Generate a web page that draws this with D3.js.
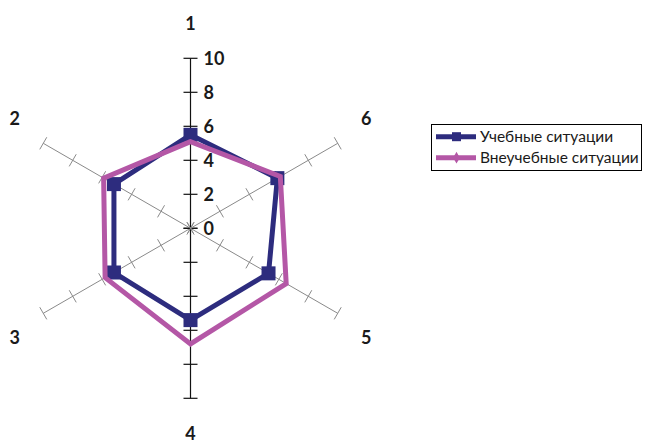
<!DOCTYPE html>
<html>
<head>
<meta charset="utf-8">
<script src="https://cdn.jsdelivr.net/npm/d3@7"></script>
<style>
  body { margin: 0; background: #fff; }
  text { font-family: Lato, "Open Sans", sans-serif; }
</style>
</head>
<body>
<div id="chart"></div>
<script>
// axes go counterclockwise starting at the top
const categories = ["1", "2", "3", "4", "5", "6"];
const seriesNames = ["Учебные ситуации", "Внеучебные ситуации"];
const studyValues = [5.5, 5.2, 5.2, 5.4, 5.3, 5.9];
const otherValues = [5.1, 5.9, 5.8, 6.8, 6.5, 6.1];
const tickValues = [0, 2, 4, 6, 8, 10];

const width = 645, height = 444;
const cx = 190.5, cy = 228.3;
const colors = ["#2d2c7e", "#b457a6"];

const svg = d3.select("#chart").append("svg")
  .attr("width", width)
  .attr("height", height);

const r = d3.scaleLinear().domain([0, 10]).range([0, 170]);
const angle = i => -i * Math.PI / 3;

const g = svg.append("g").attr("transform", `translate(${cx},${cy})`);

// spokes with cross ticks
categories.forEach((c, i) => {
  const a = angle(i);
  const sx = Math.sin(a), sy = -Math.cos(a);
  const vertical = (i === 0 || i === 3);
  const col = vertical ? "#111" : "#8a8a8a";
  g.append("line")
    .attr("x1", 0).attr("y1", 0)
    .attr("x2", sx * r(10)).attr("y2", sy * r(10))
    .attr("stroke", col).attr("stroke-width", vertical ? 1.2 : 1);
  // perpendicular direction
  const px = -sy, py = sx;
  g.selectAll(null)
    .data(tickValues)
    .enter().append("line")
    .attr("x1", d => sx * r(d) - px * 7)
    .attr("y1", d => sy * r(d) - py * 7)
    .attr("x2", d => sx * r(d) + px * 7)
    .attr("y2", d => sy * r(d) + py * 7)
    .attr("stroke", col).attr("stroke-width", vertical ? 1.2 : 1);
});

// value labels on the first axis
g.selectAll(".tick-label")
  .data(tickValues)
  .enter().append("text")
  .attr("class", "tick-label")
  .attr("x", 13)
  .attr("y", d => -r(d))
  .attr("dy", "0.36em")
  .attr("font-size", 18)
  .attr("font-weight", "bold")
  .attr("fill", "#1a1a1a")
  .text(d => d);

// category labels
g.selectAll(".cat-label")
  .data(categories)
  .enter().append("text")
  .attr("class", "cat-label")
  .attr("x", (d, i) => Math.sin(angle(i)) * 203)
  .attr("y", (d, i) => -Math.cos(angle(i)) * (i % 3 === 0 ? 205 : 219))
  .attr("dy", "0.36em")
  .attr("text-anchor", "middle")
  .attr("font-size", 18)
  .attr("font-weight", "bold")
  .attr("fill", "#1a1a1a")
  .text(d => d);

const radarLine = d3.lineRadial()
  .angle((d, i) => angle(i))
  .radius(d => r(d))
  .curve(d3.curveLinearClosed);

const allSeries = [studyValues, otherValues];

allSeries.forEach((vals, s) => {
  g.append("path")
    .attr("d", radarLine(vals))
    .attr("fill", "none")
    .attr("stroke", colors[s])
    .attr("stroke-width", 5)
    .attr("stroke-linejoin", "miter");

  if (s === 0) {
    g.selectAll(null)
      .data(vals)
      .enter().append("rect")
      .attr("x", (d, i) => Math.sin(angle(i)) * r(d) - 7)
      .attr("y", (d, i) => -Math.cos(angle(i)) * r(d) - 7)
      .attr("width", 14).attr("height", 14)
      .attr("fill", colors[0]);
  }
});

// legend
const lg = svg.append("g");
lg.append("rect")
  .attr("x", 431.5).attr("y", 124.5)
  .attr("width", 210).attr("height", 46)
  .attr("fill", "#fff").attr("stroke", "#000").attr("stroke-width", 1);

seriesNames.forEach((name, s) => {
  const y = 136.7 + s * 21;
  lg.append("line")
    .attr("x1", 436).attr("x2", 476)
    .attr("y1", y).attr("y2", y)
    .attr("stroke", colors[s]).attr("stroke-width", 5);
  if (s === 0) {
    lg.append("rect")
      .attr("x", 452).attr("y", y - 4.5)
      .attr("width", 9).attr("height", 9)
      .attr("fill", colors[s]);
  } else {
    lg.append("path")
      .attr("d", d3.symbol(d3.symbolDiamond, 40)())
      .attr("transform", `translate(456.5,${y})`)
      .attr("fill", colors[s]);
  }
  lg.append("text")
    .attr("x", 480).attr("y", y)
    .attr("dy", "0.36em")
    .attr("font-size", 15.5)
    .attr("fill", "#1a1a1a")
    .text(name);
});
</script>
</body>
</html>
